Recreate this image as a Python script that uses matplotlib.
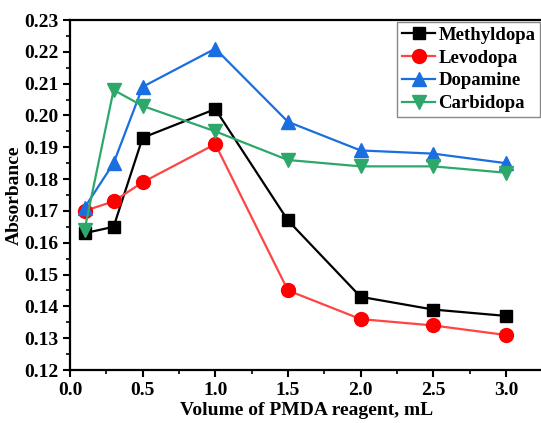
import numpy as np
import matplotlib
matplotlib.use('Agg')
from matplotlib import pyplot as plt
from matplotlib.ticker import MultipleLocator

# volume of PMDA reagent (mL)
volume = [0.1, 0.3, 0.5, 1.0, 1.5, 2.0, 2.5, 3.0]

methyldopa = [0.163, 0.165, 0.193, 0.202, 0.167, 0.143, 0.139, 0.137]
levodopa = [0.170, 0.173, 0.179, 0.191, 0.145, 0.136, 0.134, 0.131]
dopamine = [0.171, 0.185, 0.209, 0.221, 0.198, 0.189, 0.188, 0.185]
carbidopa = [0.164, 0.208, 0.203, 0.195, 0.186, 0.184, 0.184, 0.182]

names = ['Methyldopa', 'Levodopa', 'Dopamine', 'Carbidopa']

plt.rcParams['font.family'] = 'Liberation Serif'
plt.rcParams['font.weight'] = 'bold'

W, H = 541, 423
fig = plt.figure(figsize=(W / 100, H / 100), dpi=100)
x0, y0 = 70, 370
x1 = 70 + 3.25 * 145.3
y1 = 20
ax = fig.add_axes([x0 / W, (H - y0) / H, (x1 - x0) / W, (y0 - y1) / H])

ax.plot(volume, methyldopa, color='black', marker='s', ms=9, lw=1.6, label=names[0])
ax.plot(volume, levodopa, color='#ff4444', marker='o', ms=10, mfc='#ff0000', mec='#ff0000',
        lw=1.6, label=names[1])
ax.plot(volume, dopamine, color='#1a6ee0', marker='^', ms=10, lw=1.6, label=names[2])
ax.plot(volume, carbidopa, color='#2ea86a', marker='v', ms=10, lw=1.6, label=names[3])

ax.set_xlim(0, 3.25)
ax.set_ylim(0.12, 0.23)
ax.xaxis.set_major_locator(MultipleLocator(0.5))
ax.xaxis.set_minor_locator(MultipleLocator(0.25))
ax.yaxis.set_major_locator(MultipleLocator(0.01))
ax.yaxis.set_minor_locator(MultipleLocator(0.005))
ax.xaxis.set_major_formatter(matplotlib.ticker.FormatStrFormatter('%.1f'))
ax.yaxis.set_major_formatter(matplotlib.ticker.FormatStrFormatter('%.2f'))
ax.tick_params(which='major', direction='out', length=5, width=1.5, labelsize=14)
ax.tick_params(which='minor', direction='out', length=3, width=1.2)
for s in ax.spines.values():
    s.set_linewidth(1.6)
ax.spines['right'].set_visible(False)

ax.set_xlabel('Volume of PMDA reagent, mL', fontsize=14, fontweight='bold', labelpad=2)
ax.set_ylabel('Absorbance', fontsize=14, fontweight='bold', labelpad=1)

leg = ax.legend(loc='upper left', bbox_to_anchor=((397 - x0) / (x1 - x0), 1 - 2 / (y0 - y1)),
                fontsize=13.5, fancybox=False, edgecolor='#888888', framealpha=1,
                handlelength=1.8, handletextpad=0.15, borderpad=0.25, labelspacing=0.3,
                borderaxespad=0)
leg.get_frame().set_linewidth(1.0)

fig.savefig('out.png', dpi=100)
